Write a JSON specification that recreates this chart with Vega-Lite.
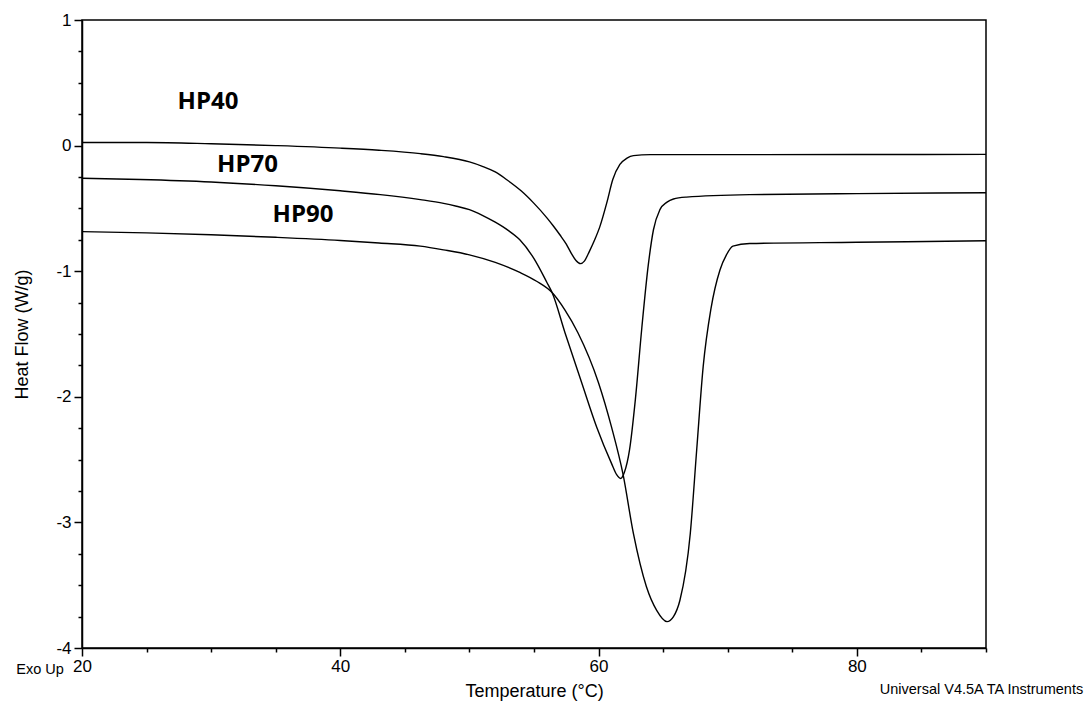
{
  "$schema": "https://vega.github.io/schema/vega-lite/v6.json",
  "width": 904,
  "height": 628,
  "autosize": {"type": "none"},
  "padding": {"left": 82, "top": 20, "right": 103, "bottom": 58},
  "background": "white",
  "config": {
    "view": {"stroke": "black", "strokeWidth": 1.5},
    "font": "Liberation Sans"
  },
  "datasets": {
    "curves": [
      {"series": "HP40", "T": 20, "H": 0.025},
      {"series": "HP40", "T": 25, "H": 0.025},
      {"series": "HP40", "T": 30, "H": 0.015},
      {"series": "HP40", "T": 35, "H": 0.0},
      {"series": "HP40", "T": 40, "H": -0.02},
      {"series": "HP40", "T": 43, "H": -0.037},
      {"series": "HP40", "T": 46.2, "H": -0.064},
      {"series": "HP40", "T": 48, "H": -0.088},
      {"series": "HP40", "T": 50, "H": -0.13},
      {"series": "HP40", "T": 51, "H": -0.165},
      {"series": "HP40", "T": 52, "H": -0.21},
      {"series": "HP40", "T": 53, "H": -0.28},
      {"series": "HP40", "T": 54, "H": -0.36},
      {"series": "HP40", "T": 55, "H": -0.46},
      {"series": "HP40", "T": 56, "H": -0.575},
      {"series": "HP40", "T": 56.5, "H": -0.64},
      {"series": "HP40", "T": 57, "H": -0.71},
      {"series": "HP40", "T": 57.5, "H": -0.785},
      {"series": "HP40", "T": 57.9, "H": -0.86},
      {"series": "HP40", "T": 58.25, "H": -0.915},
      {"series": "HP40", "T": 58.6, "H": -0.94},
      {"series": "HP40", "T": 58.9, "H": -0.92},
      {"series": "HP40", "T": 59.3, "H": -0.84},
      {"series": "HP40", "T": 59.7, "H": -0.75},
      {"series": "HP40", "T": 60.1, "H": -0.645},
      {"series": "HP40", "T": 60.65, "H": -0.45},
      {"series": "HP40", "T": 61.1, "H": -0.27},
      {"series": "HP40", "T": 61.65, "H": -0.15},
      {"series": "HP40", "T": 62.2, "H": -0.1},
      {"series": "HP40", "T": 62.7, "H": -0.08},
      {"series": "HP40", "T": 64, "H": -0.072},
      {"series": "HP40", "T": 70, "H": -0.072},
      {"series": "HP40", "T": 80, "H": -0.071},
      {"series": "HP40", "T": 90, "H": -0.07},

      {"series": "HP70", "T": 20, "H": -0.26},
      {"series": "HP70", "T": 24.5, "H": -0.27},
      {"series": "HP70", "T": 30, "H": -0.29},
      {"series": "HP70", "T": 35, "H": -0.32},
      {"series": "HP70", "T": 40, "H": -0.36},
      {"series": "HP70", "T": 43.1, "H": -0.39},
      {"series": "HP70", "T": 46.2, "H": -0.43},
      {"series": "HP70", "T": 48, "H": -0.46},
      {"series": "HP70", "T": 49, "H": -0.483},
      {"series": "HP70", "T": 50, "H": -0.51},
      {"series": "HP70", "T": 51, "H": -0.555},
      {"series": "HP70", "T": 52, "H": -0.61},
      {"series": "HP70", "T": 53, "H": -0.675},
      {"series": "HP70", "T": 53.9, "H": -0.75},
      {"series": "HP70", "T": 55, "H": -0.9},
      {"series": "HP70", "T": 56, "H": -1.09},
      {"series": "HP70", "T": 56.4, "H": -1.17},
      {"series": "HP70", "T": 57.4, "H": -1.49},
      {"series": "HP70", "T": 58.7, "H": -1.89},
      {"series": "HP70", "T": 59.85, "H": -2.24},
      {"series": "HP70", "T": 61.0, "H": -2.53},
      {"series": "HP70", "T": 61.4, "H": -2.62},
      {"series": "HP70", "T": 61.7, "H": -2.65},
      {"series": "HP70", "T": 62.0, "H": -2.6},
      {"series": "HP70", "T": 62.4, "H": -2.42},
      {"series": "HP70", "T": 62.85, "H": -2.02},
      {"series": "HP70", "T": 63.35, "H": -1.45},
      {"series": "HP70", "T": 63.85, "H": -0.95},
      {"series": "HP70", "T": 64.25, "H": -0.67},
      {"series": "HP70", "T": 64.75, "H": -0.51},
      {"series": "HP70", "T": 65.3, "H": -0.45},
      {"series": "HP70", "T": 65.8, "H": -0.425},
      {"series": "HP70", "T": 66.8, "H": -0.41},
      {"series": "HP70", "T": 71.7, "H": -0.39},
      {"series": "HP70", "T": 80, "H": -0.382},
      {"series": "HP70", "T": 90, "H": -0.375},

      {"series": "HP90", "T": 20, "H": -0.685},
      {"series": "HP90", "T": 25, "H": -0.695},
      {"series": "HP90", "T": 30, "H": -0.71},
      {"series": "HP90", "T": 35, "H": -0.73},
      {"series": "HP90", "T": 40, "H": -0.755},
      {"series": "HP90", "T": 43, "H": -0.775},
      {"series": "HP90", "T": 46.2, "H": -0.8},
      {"series": "HP90", "T": 48, "H": -0.83},
      {"series": "HP90", "T": 50, "H": -0.87},
      {"series": "HP90", "T": 52, "H": -0.93},
      {"series": "HP90", "T": 53.9, "H": -1.01},
      {"series": "HP90", "T": 55.2, "H": -1.08},
      {"series": "HP90", "T": 56.4, "H": -1.17},
      {"series": "HP90", "T": 57.4, "H": -1.31},
      {"series": "HP90", "T": 58.4, "H": -1.49},
      {"series": "HP90", "T": 60.0, "H": -1.89},
      {"series": "HP90", "T": 61.0, "H": -2.24},
      {"series": "HP90", "T": 61.9, "H": -2.62},
      {"series": "HP90", "T": 62.7, "H": -3.09},
      {"series": "HP90", "T": 63.7, "H": -3.51},
      {"series": "HP90", "T": 64.5, "H": -3.7},
      {"series": "HP90", "T": 65.3, "H": -3.79},
      {"series": "HP90", "T": 65.8, "H": -3.75},
      {"series": "HP90", "T": 66.3, "H": -3.62},
      {"series": "HP90", "T": 67.1, "H": -3.09},
      {"series": "HP90", "T": 67.6, "H": -2.42},
      {"series": "HP90", "T": 68.1, "H": -1.76},
      {"series": "HP90", "T": 68.7, "H": -1.3},
      {"series": "HP90", "T": 69.4, "H": -0.99},
      {"series": "HP90", "T": 69.9, "H": -0.87},
      {"series": "HP90", "T": 70.4, "H": -0.8},
      {"series": "HP90", "T": 71.7, "H": -0.78},
      {"series": "HP90", "T": 80, "H": -0.77},
      {"series": "HP90", "T": 90, "H": -0.757}
    ],
    "labels": [
      {"label": "HP40", "T": 29.76, "H": 0.347},
      {"label": "HP70", "T": 32.82, "H": -0.151},
      {"label": "HP90", "T": 37.11, "H": -0.55}
    ],
    "notes": [
      {"note": "Exo Up", "T": 16.75, "H": -4.175},
      {"note": "Universal V4.5A TA Instruments", "T": 89.65, "H": -4.335}
    ]
  },
  "encoding": {
    "x": {
      "field": "T",
      "type": "quantitative",
      "scale": {"domain": [20, 90], "nice": false, "zero": false},
      "axis": {
        "title": "Temperature (°C)",
        "values": [20, 25, 30, 35, 40, 45, 50, 55, 60, 65, 70, 75, 80, 85, 90],
        "labelExpr": "datum.value % 20 === 0 ? '' + datum.value : ''",
        "tickSize": {"condition": {"test": "datum.value % 20 === 0", "value": 8}, "value": 4},
        "labelFlush": false,
        "labelOverlap": false,
        "grid": false,
        "domainColor": "black",
        "domainWidth": 1.5,
        "tickColor": "black",
        "tickWidth": 1.5,
        "labelColor": "black",
        "labelFontSize": 17,
        "labelPadding": 2,
        "titleFontSize": 18,
        "titleFontWeight": "normal",
        "titleColor": "black",
        "titlePadding": 8
      }
    },
    "y": {
      "field": "H",
      "type": "quantitative",
      "scale": {"domain": [-4, 1], "nice": false, "zero": false},
      "axis": {
        "title": "Heat Flow (W/g)",
        "values": [-4, -3.75, -3.5, -3.25, -3, -2.75, -2.5, -2.25, -2, -1.75, -1.5, -1.25, -1, -0.75, -0.5, -0.25, 0, 0.25, 0.5, 0.75, 1],
        "labelExpr": "datum.value % 1 === 0 ? '' + datum.value : ''",
        "tickSize": {"condition": {"test": "datum.value % 1 === 0", "value": 8}, "value": 4},
        "labelOverlap": false,
        "grid": false,
        "domainColor": "black",
        "domainWidth": 1.5,
        "tickColor": "black",
        "tickWidth": 1.5,
        "labelColor": "black",
        "labelFontSize": 17,
        "labelPadding": 3,
        "titleFontSize": 18,
        "titleFontWeight": "normal",
        "titleColor": "black",
        "titlePadding": 24
      }
    }
  },
  "layer": [
    {
      "data": {"name": "curves"},
      "mark": {"type": "line", "color": "black", "strokeWidth": 1.4, "interpolate": "monotone", "clip": true},
      "encoding": {"detail": {"field": "series"}}
    },
    {
      "data": {"name": "labels"},
      "mark": {"type": "text", "font": "Open Sans", "fontWeight": "bold", "fontSize": 24, "color": "black", "align": "center", "baseline": "middle"},
      "encoding": {"text": {"field": "label"}}
    },
    {
      "data": {"name": "notes"},
      "mark": {"type": "text", "fontSize": 14.5, "color": "black", "align": "center", "baseline": "middle"},
      "encoding": {"text": {"field": "note"}}
    }
  ]
}
